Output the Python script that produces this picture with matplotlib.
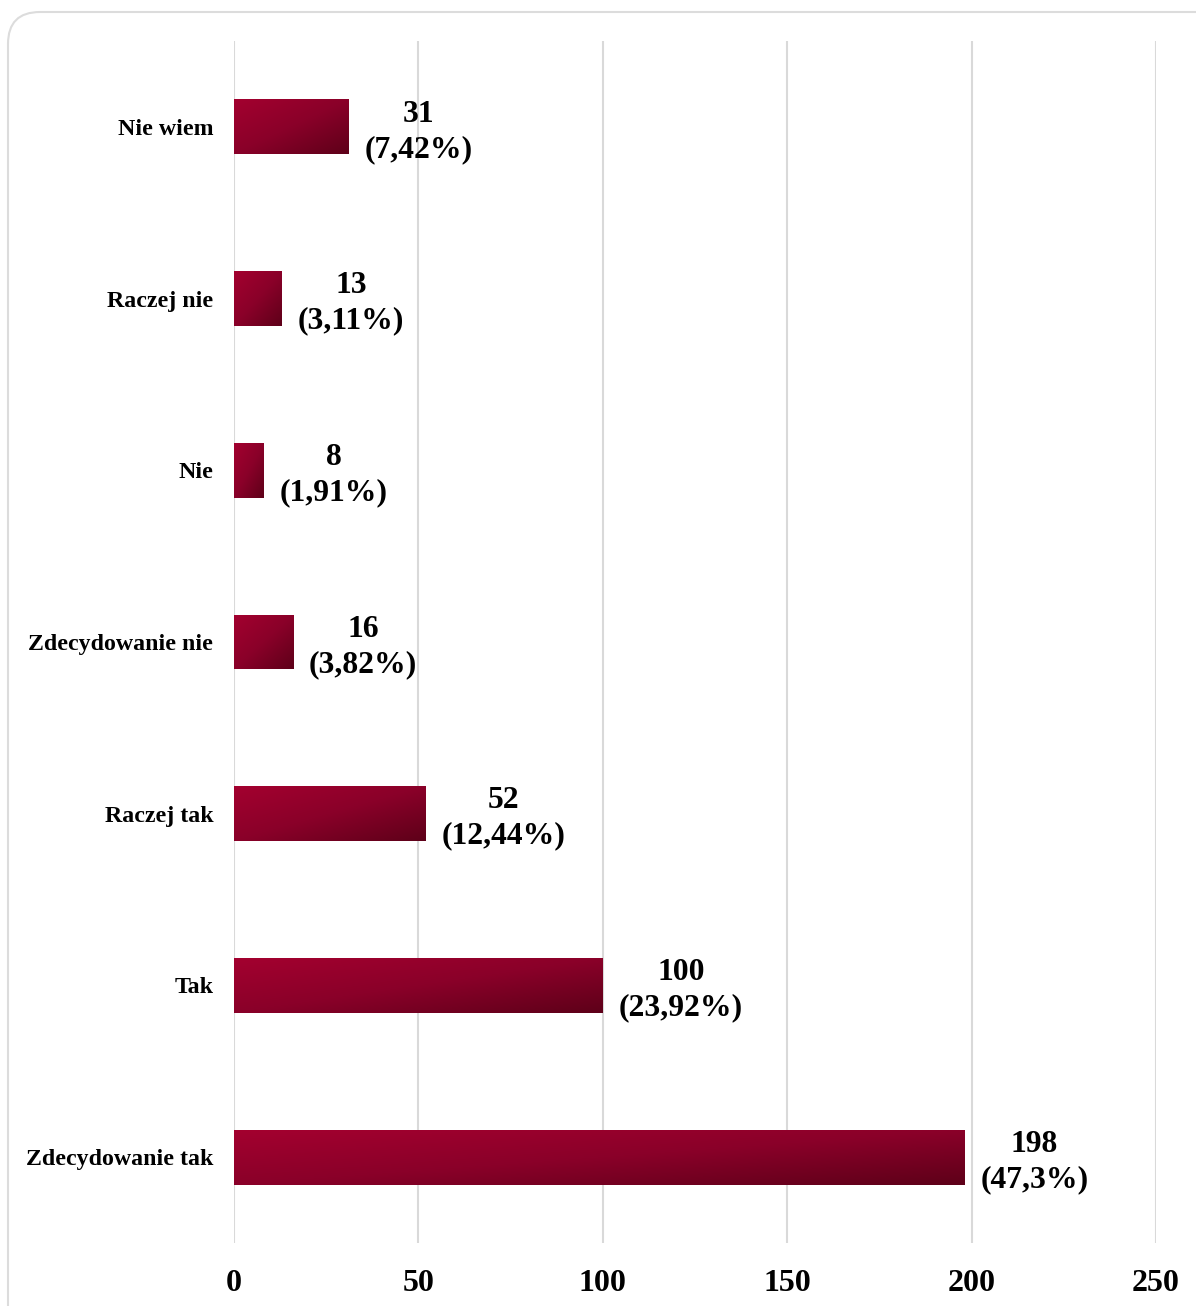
import numpy as np
import matplotlib.pyplot as plt
from matplotlib.patches import FancyBboxPatch
from matplotlib.colors import LinearSegmentedColormap
from matplotlib.transforms import IdentityTransform

categories = ['Zdecydowanie tak', 'Tak', 'Raczej tak', 'Zdecydowanie nie',
              'Nie', 'Raczej nie', 'Nie wiem']
counts = [198, 100, 52, 16, 8, 13, 31]
percents = ['47,3%', '23,92%', '12,44%', '3,82%', '1,91%', '3,11%', '7,42%']

plt.rcParams['font.family'] = ['Liberation Serif', 'DejaVu Serif']
plt.rcParams['font.weight'] = 'bold'

W, H = 1196, 1306
fig = plt.figure(figsize=(W / 100, H / 100), dpi=100)

# rounded card behind the chart (pixel units, runs off the right/bottom edges)
card = FancyBboxPatch((8, -60), W + 100, H - 12 + 60,
                      boxstyle='round,pad=0,rounding_size=32',
                      transform=IdentityTransform(), facecolor='white',
                      edgecolor='#dcdcdc', linewidth=1.5, zorder=-5)
fig.patches.append(card)

ax = fig.add_axes([234 / W, 1 - 1243 / H, 922 / W, 1202 / H], zorder=2)
ax.set_facecolor('none')

cmap = LinearSegmentedColormap.from_list('wine', ['#a3002f', '#8a0029', '#5e0019'])
bar_h = 0.32
ypos = np.arange(len(categories))
bars = ax.barh(ypos, counts, height=bar_h, color='none', zorder=2)

# diagonal gradient fill, clipped to each bar
u, v = np.meshgrid(np.linspace(0, 1, 200), np.linspace(0, 1, 50))
grad = (u + v) / 2
for rect in bars:
    x0, y0 = rect.get_x(), rect.get_y()
    w, h = rect.get_width(), rect.get_height()
    im = ax.imshow(grad, cmap=cmap, extent=(x0, x0 + w, y0, y0 + h),
                   origin='upper', aspect='auto', zorder=2, interpolation='bilinear')
    im.set_clip_path(rect)

for y, c, p in zip(ypos, counts, percents):
    ax.annotate(f'{c}\n({p})', xy=(c, y), xytext=(11.5, -3.5), textcoords='offset points',
                ha='left', va='center', multialignment='center',
                fontsize=22.8, fontweight='bold', linespacing=1.28)

ax.set_xlim(0, 250)
ax.set_ylim(-0.5, 6.5)
ax.set_xticks([0, 50, 100, 150, 200, 250])
ax.set_yticks(ypos)
ax.set_yticklabels(categories)
ax.tick_params(axis='y', length=0, pad=15, labelsize=17.2)
ax.tick_params(axis='x', length=0, pad=19, labelsize=23)
for lbl in ax.get_xticklabels() + ax.get_yticklabels():
    lbl.set_fontweight('bold')

ax.grid(axis='x', color='#d9d9d9', linewidth=1.5, zorder=0)
ax.set_axisbelow(True)
for s in ax.spines.values():
    s.set_visible(False)

fig.savefig('out.png', dpi=100)
